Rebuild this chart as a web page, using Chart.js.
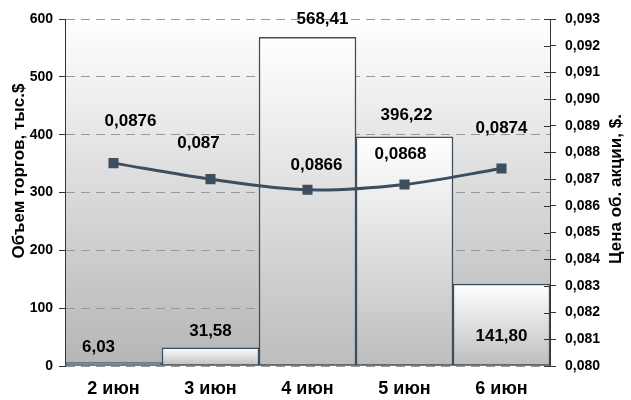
<!DOCTYPE html>
<html>
<head>
<meta charset="utf-8">
<script src="https://cdn.jsdelivr.net/npm/chart.js@4.4.1/dist/chart.umd.min.js"></script>
<style>
  html, body { margin: 0; padding: 0; background: #fff; }
  #wrap { width: 631px; height: 400px; position: relative; }
</style>
</head>
<body>
<div id="wrap"><canvas id="chart"></canvas></div>
<script>
const categories = ["2 июн", "3 июн", "4 июн", "5 июн", "6 июн"]
const volumes = [6.03, 31.58, 568.41, 396.22, 141.80]
const prices = [0.0876, 0.087, 0.0866, 0.0868, 0.0874]
const priceLabels = ["0,0876", "0,087", "0,0866", "0,0868", "0,0874"]

// label placement (styling only)
const barLabelShift = [[-15, -15], [0, -16], [15, -18], [2, -22], [0, null]]
const lineLabelShift = [[17, -42], [-12, -36], [9, -25], [-4, -30], [0, -40]]

const FONT = "'Liberation Sans', Arial, sans-serif"
const SLATE = "#3d4e5e"

const fmtVol = v => v.toFixed(2).replace(".", ",")

const backdrop = {
  id: "backdrop",
  beforeDraw(chart) {
    const { ctx, chartArea: a } = chart
    const g = ctx.createLinearGradient(0, a.top, 0, a.bottom)
    g.addColorStop(0, "#ffffff")
    g.addColorStop(1, "#b5b5b5")
    ctx.save()
    ctx.fillStyle = g
    ctx.fillRect(a.left, a.top, a.right - a.left, a.bottom - a.top)
    ctx.restore()
  }
}

function verticalText(ctx, text, x, y) {
  ctx.save()
  ctx.fillStyle = "#000"
  ctx.textAlign = "center"
  ctx.textBaseline = "middle"
  ctx.font = "bold 17px " + FONT
  ctx.translate(x, y)
  ctx.rotate(-Math.PI / 2)
  ctx.fillText(text, 0, 0)
  ctx.restore()
}

const labels = {
  id: "labels",
  afterDatasetsDraw(chart) {
    const { ctx, chartArea: a } = chart
    ctx.save()
    ctx.fillStyle = "#000"
    ctx.textAlign = "center"
    ctx.textBaseline = "middle"
    ctx.font = "bold 17px " + FONT

    chart.getDatasetMeta(0).data.forEach((bar, i) => {
      const s = barLabelShift[i]
      const y = s[1] === null ? a.bottom - 30 : bar.y + s[1]
      ctx.fillText(fmtVol(volumes[i]), bar.x + s[0], y)
    })
    chart.getDatasetMeta(1).data.forEach((pt, i) => {
      const s = lineLabelShift[i]
      ctx.fillText(priceLabels[i], pt.x + s[0], pt.y + s[1])
    })

    // right axis ticks cross the axis line
    const y1 = chart.scales.y1
    ctx.strokeStyle = "#333"
    ctx.lineWidth = 1
    ctx.beginPath()
    y1.ticks.forEach(t => {
      const py = Math.round(y1.getPixelForValue(t.value)) + 0.5
      ctx.moveTo(a.right - 6, py)
      ctx.lineTo(a.right, py)
    })
    ctx.stroke()
    ctx.restore()

    // axis titles, both read bottom to top
    verticalText(ctx, "Объем торгов, тыс.$", 19, 171)
    verticalText(ctx, "Цена об. акции, $.", 616, 189)
  }
}

new Chart(document.getElementById("chart"), {
  data: {
    labels: categories,
    datasets: [
      {
        type: "bar",
        data: volumes,
        yAxisID: "y",
        order: 1,
        barPercentage: 1,
        categoryPercentage: 1,
        borderColor: SLATE,
        borderWidth: 1.5,
        borderSkipped: false,
        backgroundColor: function(context) {
          const chart = context.chart
          const area = chart.chartArea
          if (!area) return "#ddd"
          const y = chart.scales.y
          const top = y.getPixelForValue(volumes[context.dataIndex])
          const g = chart.ctx.createLinearGradient(0, top, 0, area.bottom)
          g.addColorStop(0, "#ffffff")
          g.addColorStop(1, "#bdbdbd")
          return g
        }
      },
      {
        type: "line",
        data: prices,
        yAxisID: "y1",
        order: 0,
        borderColor: SLATE,
        backgroundColor: SLATE,
        borderWidth: 3,
        tension: 0.35,
        pointStyle: "rect",
        pointRadius: 5,
        pointHoverRadius: 5
      }
    ]
  },
  options: {
    responsive: true,
    maintainAspectRatio: false,
    animation: false,
    events: [],
    layout: {
      padding: { top: 19, right: 0, left: 0, bottom: 0 }
    },
    scales: {
      x: {
        grid: { display: false },
        border: { display: false },
        ticks: {
          color: "#000",
          font: { family: FONT, size: 18, weight: "bold" },
          padding: 4
        },
        afterFit(scale) { scale.height = 34 }
      },
      y: {
        position: "left",
        min: 0,
        max: 600,
        ticks: {
          stepSize: 100,
          color: "#000",
          font: { family: FONT, size: 14, weight: "bold" },
          padding: 6
        },
        grid: {
          color: "#999999",
          lineWidth: 1,
          tickColor: "#333",
          tickLength: 6,
          tickBorderDash: []
        },
        border: { color: "#333", width: 1, dash: [9, 6] },
        afterFit(scale) { scale.width = 65 }
      },
      y1: {
        position: "right",
        min: 0.080,
        max: 0.093,
        ticks: {
          stepSize: 0.001,
          color: "#000",
          font: { family: FONT, size: 14, weight: "bold" },
          padding: 9,
          callback: v => v.toFixed(3).replace(".", ",")
        },
        grid: {
          drawOnChartArea: false,
          color: "#333",
          tickColor: "#333",
          tickLength: 6
        },
        border: { color: "#333", width: 1 },
        afterFit(scale) { scale.width = 81 }
      }
    },
    plugins: {
      legend: { display: false },
      tooltip: { enabled: false }
    }
  },
  plugins: [backdrop, labels]
})
</script>
</body>
</html>
